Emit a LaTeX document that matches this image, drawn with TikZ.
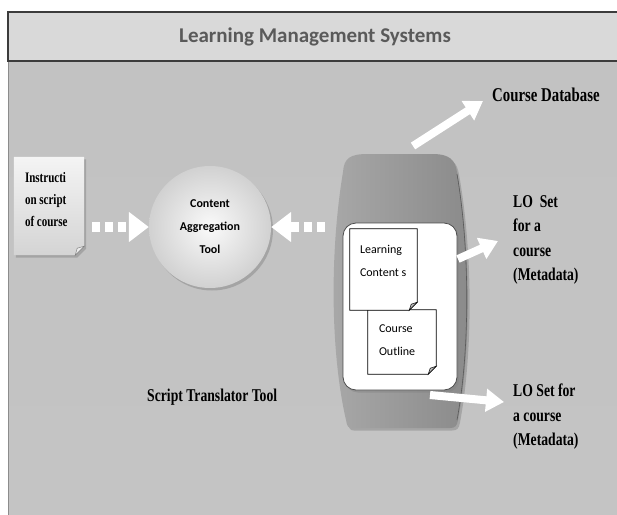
\documentclass[tikz,border=0pt]{standalone}
\usepackage{fontspec}
\setmainfont{Liberation Serif}
\newfontfamily\lblfont[FakeStretch=0.76]{Liberation Serif}
\newfontfamily\carfont{Carlito}
\usetikzlibrary{arrows.meta,shadows,calc}

\definecolor{bandgray}{HTML}{D9D9D9}
\definecolor{framegray}{HTML}{3C3C3C}
\definecolor{titlegray}{HTML}{5A5A5A}
\definecolor{bgtop}{HTML}{C2C2C2}
\definecolor{bgmid}{HTML}{A8A8A8}
\definecolor{bgbot}{HTML}{C4C4C4}
\definecolor{barrelleft}{HTML}{A8A8A8}
\definecolor{barrelright}{HTML}{8A8A8A}
\definecolor{foldgray}{HTML}{B4B4B4}
\definecolor{docltop}{HTML}{F4F4F4}
\definecolor{doclbot}{HTML}{D4D4D4}

\begin{document}
\begin{tikzpicture}[x=1pt,y=-1pt,
    page/.style={rectangle, inner sep=0pt},
    doctext/.style={anchor=north west, inner sep=0pt, align=left},
    lbl/.style={anchor=north west, inner sep=0pt, align=left,
      font={\lblfont\bfseries\fontsize{18}{24.5}\selectfont}},
    softshadow/.style={drop shadow={shadow xshift=2pt, shadow yshift=-2.5pt, opacity=.45}},
    fatarrow/.style={draw=white, line width=8pt, -{Triangle[width=22pt,length=18pt]}},
    dotarrow/.style={draw=white, line width=10pt, dash pattern=on 8pt off 5pt,
      -{Triangle[width=29pt,length=20pt]}}]
  \useasboundingbox (0,0) rectangle (617,514);
  % Frame
  \shade[top color=bgtop, middle color=bgmid, bottom color=bgbot] (8,61) rectangle (625,520);
  \draw[gray!90, line width=1pt] (8,61) -- (8,520);
  \filldraw[fill=bandgray, draw=framegray, line width=1.5pt] (8,12) rectangle (625,61);
  \node[font={\carfont\bfseries\fontsize{21}{25}\selectfont}, text=titlegray] (title) at (315,37) {Learning Management Systems};
  % Barrel
  \path[softshadow, left color=barrelleft, right color=barrelright]
    (343,172) .. controls (344,158) and (350,154) .. (368,154) -- (432,154)
    .. controls (450,154) and (455,160) .. (457,172)
    .. controls (471,250) and (471,350) .. (458,420)
    .. controls (457,426) and (455,428) .. (450,428) -- (352,428)
    .. controls (348,428) and (347,426) .. (346,420)
    .. controls (330,350) and (330,250) .. (343,172) -- cycle;
  \draw[black!65, line width=.6pt] (457,174) .. controls (470,250) and (470,350) .. (457,420);
  \node[softshadow, rectangle, rounded corners=13pt, fill=white, draw=black!70, line width=.8pt,
    minimum width=114pt, minimum height=167pt] (inner) at (400,306.5) {};
  % Documents
  \node[page, minimum width=70pt, minimum height=98pt] (instr) at (49,206) {};
  \node[page, minimum width=68pt, minimum height=64pt] (co) at (402,342) {};
  \node[page, minimum width=67pt, minimum height=81pt] (lc) at (383.5,269.5) {};
  \path[softshadow, top color=docltop, bottom color=doclbot]
    (instr.north west) -- (instr.north east) -- ([yshift=9pt]instr.south east)
    -- ([xshift=-9pt]instr.south east) -- (instr.south west) -- cycle;
  \filldraw[fill=white!85!gray, draw=gray, line width=.5pt] ([yshift=9pt]instr.south east)
    -- ([xshift=-9pt]instr.south east) -- ([xshift=-7pt,yshift=7pt]instr.south east) -- cycle;
  \foreach \p in {co,lc} {
    \filldraw[fill=white, draw=black, line width=.7pt] (\p.north west) -- (\p.north east)
      -- ([yshift=8pt]\p.south east) -- ([xshift=-8pt]\p.south east) -- (\p.south west) -- cycle;
    \filldraw[fill=foldgray, draw=black, line width=.5pt] ([yshift=8pt]\p.south east)
      -- ([xshift=-8pt]\p.south east) -- ([xshift=-6pt,yshift=6pt]\p.south east) -- cycle;
  }
  \node[doctext, font={\lblfont\bfseries\fontsize{14.5}{22}\selectfont}] (instrtxt)
    at ([xshift=11pt,yshift=-15pt]instr.north west) {Instructi\\on script\\of course};
  \node[doctext, font={\carfont\fontsize{12}{23}\selectfont}] (lctxt)
    at ([xshift=10pt,yshift=-16pt]lc.north west) {Learning\\Content s};
  \node[doctext, font={\carfont\fontsize{12}{23}\selectfont}] (cotxt)
    at ([xshift=11pt,yshift=-15pt]co.north west) {Course\\Outline};
  % Aggregation tool
  \node[softshadow, circle, minimum size=122pt, inner color=white!96!gray, outer color=black!18,
    align=center, font={\carfont\bfseries\fontsize{12}{23}\selectfont}] (cat) at (210,227)
    {Content\\Aggregation\\Tool};
  \draw[dotarrow] ($(instr.east |- cat.west)+(8,0)$) -- (cat.west);
  \draw[dotarrow] ($(cat.east)+(54,0)$) -- (cat.east);
  % Outputs
  \coordinate (dbfrom) at (413,146);
  \coordinate (dbto) at (483,101);
  \coordinate (lofirstfrom) at (458,259);
  \coordinate (lofirstto) at (498,241);
  \coordinate (losecondfrom) at (430,395);
  \coordinate (losecondto) at (504,402);
  \draw[fatarrow] (dbfrom) -- (dbto);
  \draw[fatarrow] (lofirstfrom) -- (lofirstto);
  \draw[fatarrow] (losecondfrom) -- (losecondto);
  % Labels
  \node[lbl, font={\lblfont\bfseries\fontsize{19.5}{24.5}\selectfont}] (db) at (492,88) {Course Database};
  \node[lbl] (lofirst) at (513,195) {LO\ \ Set\\for a\\course\\(Metadata)};
  \node[lbl] (losecond) at (513,384) {LO Set for\\a course\\(Metadata)};
  \node[lbl] (stt) at (147,389) {Script Translator Tool};
\end{tikzpicture}
\end{document}
